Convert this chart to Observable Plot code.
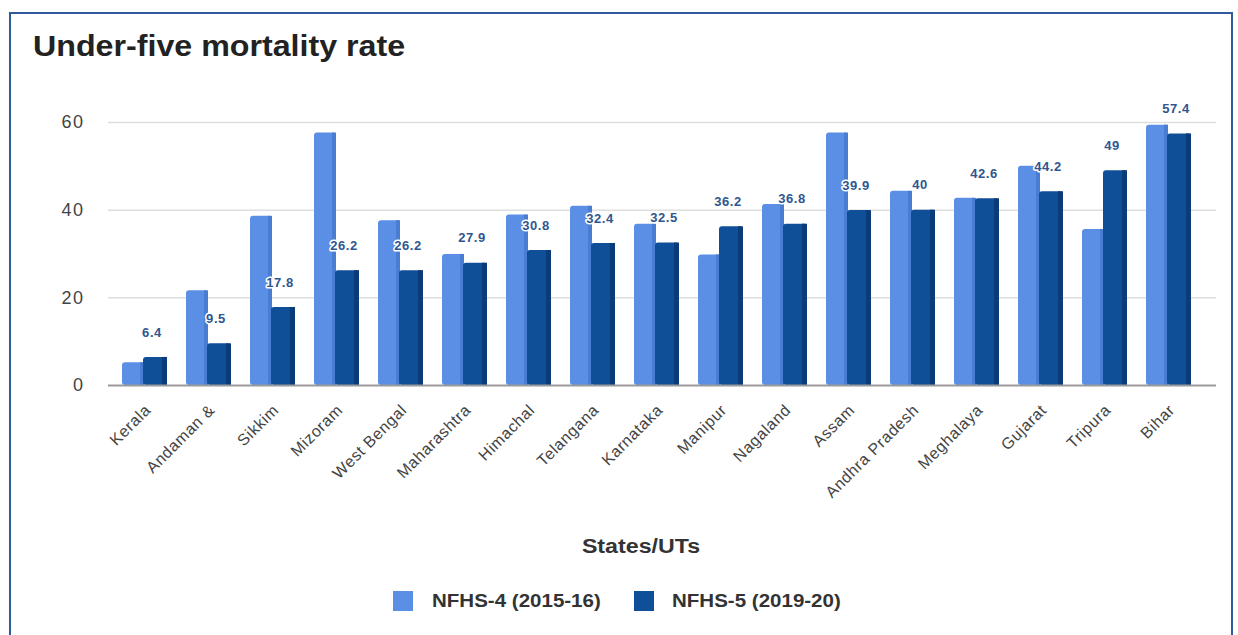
<!DOCTYPE html>
<html>
<head>
<meta charset="utf-8">
<script src="https://cdn.jsdelivr.net/npm/d3@7"></script>
<script src="https://cdn.jsdelivr.net/npm/@observablehq/plot@0.6"></script>
<style>
  html, body { margin: 0; padding: 0; background: #fff; width: 1238px; height: 635px; overflow: hidden; }
  body { font-family: "Liberation Sans", Arial, sans-serif; position: relative; }
  #frame { position: absolute; left: 9px; top: 12px; width: 1224px; height: 700px; border: 2px solid #2f5b9a; box-sizing: border-box; }
  #title { position: absolute; left: 33px; top: 30px; font-size: 29px; font-weight: bold; color: #222; transform: scaleX(1.11); transform-origin: 0 0; white-space: nowrap; }
  #chart { position: absolute; left: 0; top: 90px; }
  #xtitle { position: absolute; left: 541px; width: 200px; top: 535px; text-align: center; font-size: 20px; font-weight: bold; color: #333; transform: scaleX(1.16); transform-origin: 50% 0; }
  #legend { position: absolute; top: 591px; left: 0; width: 1238px; font-size: 18px; font-weight: bold; color: #333; }
  .sw { position: absolute; top: 0; width: 20px; height: 20px; }
  .lt { position: absolute; top: -1px; line-height: 22px; white-space: nowrap; transform: scaleX(1.14); transform-origin: 0 0; }
  #chart g[aria-label="y-axis tick label"] text { letter-spacing: 1.5px; }
  #chart g[aria-label="x-axis tick label"] text { letter-spacing: 0.6px; }
  #chart g[aria-label="text"] text { letter-spacing: 0.6px; }
</style>
</head>
<body>
<div id="frame"></div>
<div id="title">Under-five mortality rate</div>
<div id="chart"></div>
<div id="xtitle">States/UTs</div>
<div id="legend"></div>
<script>
const states = ["Kerala","Andaman &","Sikkim","Mizoram","West Bengal","Maharashtra","Himachal","Telangana","Karnataka","Manipur","Nagaland","Assam","Andhra Pradesh","Meghalaya","Gujarat","Tripura","Bihar"];
const nfhs4 = [5.2, 21.6, 38.6, 57.6, 37.6, 29.9, 38.9, 40.9, 36.8, 29.8, 41.3, 57.6, 44.3, 42.7, 50, 35.6, 59.4];
const nfhs5 = [6.4, 9.5, 17.8, 26.2, 26.2, 27.9, 30.8, 32.4, 32.5, 36.2, 36.8, 39.9, 40, 42.6, 44.2, 49, 57.4];
const seriesNames = ["NFHS-4 (2015-16)", "NFHS-5 (2019-20)"];
const seriesColors = ["#5b8fe6", "#0f4f98"];
const sideColors = ["#4a7dd2", "#0a3c7a"];
const yTicks = [0, 20, 40, 60];

const rows = states.map((s, i) => ({state: s, a: nfhs4[i], b: nfhs5[i]}));

const chart = Plot.plot({
  width: 1238,
  height: 425,
  marginTop: 32,
  marginBottom: 130,
  marginLeft: 108,
  marginRight: 22,
  style: {fontFamily: "'Liberation Sans', Arial, sans-serif", background: "transparent"},
  x: {domain: states, range: [120, 1193], paddingInner: 0.3, paddingOuter: 0, label: null},
  y: {domain: [0, 60], label: null},
  marks: [
    Plot.ruleY(yTicks.filter(d => d > 0), {stroke: "#dedede", strokeWidth: 1.5}),
    Plot.barY(rows, {x: "state", y: "a", fill: seriesColors[0], insetRight: 23, rx: 3}),
    Plot.barY(rows, {x: "state", y: "a", fill: sideColors[0], insetLeft: 18, insetRight: 23}),
    Plot.barY(rows, {x: "state", y: "b", fill: seriesColors[1], insetLeft: 21, rx: 3}),
    Plot.barY(rows, {x: "state", y: "b", fill: sideColors[1], insetLeft: 40}),
    Plot.ruleY([0], {stroke: "#9a9a9a", strokeWidth: 2}),
    Plot.text(rows, {x: "state", y: "b", text: d => String(d.b), dx: 7, dy: -25, fill: "#2f5690", fontSize: 13, fontWeight: "bold", stroke: "white", strokeWidth: 3}),
    Plot.axisY({ticks: yTicks, tickSize: 0, tickPadding: 24, fontSize: 18, color: "#444", label: null}),
    Plot.axisX({tickSize: 0, tickPadding: 22, tickRotate: -45, fontSize: 16, color: "#444", label: null, dx: 3})
  ]
});
document.getElementById("chart").appendChild(chart);

const legend = document.getElementById("legend");
const swX = [393, 634];
const txX = [432, 672];
seriesNames.forEach((n, i) => {
  const s = document.createElement("div");
  s.className = "sw";
  s.style.left = swX[i] + "px";
  s.style.background = seriesColors[i];
  legend.appendChild(s);
  const t = document.createElement("div");
  t.className = "lt";
  t.style.left = txX[i] + "px";
  t.textContent = n;
  legend.appendChild(t);
});
</script>
</body>
</html>
